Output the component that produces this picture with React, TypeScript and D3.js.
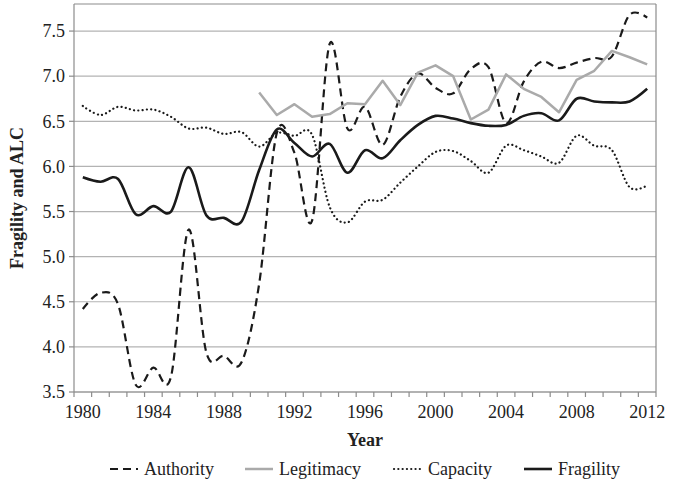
import * as d3 from "d3";

const years = [
  1980, 1981, 1982, 1983, 1984, 1985, 1986, 1987, 1988, 1989, 1990,
  1991, 1992, 1993, 1994, 1995, 1996, 1997, 1998, 1999, 2000,
  2001, 2002, 2003, 2004, 2005, 2006, 2007, 2008, 2009, 2010, 2011, 2012,
];

const authority = [
  4.42, 4.60, 4.47, 3.58, 3.77, 3.67, 5.30, 3.94, 3.90, 3.83, 4.70,
  6.37, 6.15, 5.40, 7.36, 6.42, 6.66, 6.24, 6.77, 7.03, 6.87,
  6.81, 7.08, 7.10, 6.48, 6.94, 7.16, 7.09, 7.15, 7.20, 7.22, 7.68, 7.65,
];

const legitimacy: (number | null)[] = [
  null, null, null, null, null, null, null, null, null, null, 6.82,
  6.57, 6.69, 6.55, 6.58, 6.70, 6.69, 6.95, 6.68, 7.04, 7.12,
  7.00, 6.52, 6.63, 7.02, 6.86, 6.77, 6.60, 6.96, 7.06, 7.28, 7.21, 7.13,
];

const capacity = [
  6.67, 6.57, 6.66, 6.62, 6.63, 6.55, 6.42, 6.43, 6.36, 6.38, 6.22,
  6.37, 6.34, 6.35, 5.55, 5.38, 5.61, 5.63, 5.82, 6.00, 6.16,
  6.17, 6.06, 5.93, 6.23, 6.18, 6.11, 6.04, 6.34, 6.23, 6.18, 5.77, 5.79,
];

const fragility = [
  5.88, 5.83, 5.86, 5.47, 5.56, 5.50, 5.99, 5.46, 5.43, 5.39, 5.96,
  6.41, 6.26, 6.11, 6.25, 5.93, 6.18, 6.09, 6.29, 6.46, 6.56,
  6.53, 6.48, 6.45, 6.46, 6.56, 6.59, 6.51, 6.75, 6.72, 6.71, 6.72, 6.86,
];

const yTicks = [3.5, 4.0, 4.5, 5.0, 5.5, 6.0, 6.5, 7.0, 7.5];
const xLabels = [1980, 1984, 1988, 1992, 1996, 2000, 2004, 2008, 2012];

const font = '"Liberation Serif", "DejaVu Serif", serif';

export default function App() {
  const w = 673;
  const h = 482;
  const left = 74, right = 656, top = 4, bottom = 392;

  const x = d3.scaleBand<number>().domain(years).range([left, right]).padding(0);
  const cx = (yr: number) => (x(yr) as number) + x.bandwidth() / 2;
  const y = d3.scaleLinear().domain([3.5, 7.8]).range([bottom, top]);

  // excel-style smoothed line
  const smooth = d3
    .line<number>()
    .x((_, i) => cx(years[i]))
    .y((d) => y(d))
    .curve(d3.curveCardinal.tension(0));

  const straight = d3
    .line<number | null>()
    .defined((d) => d != null)
    .x((_, i) => cx(years[i]))
    .y((d) => y(d as number));

  const series = [
    { name: "Authority", d: smooth(authority), stroke: "#1a1a1a", width: 2.2, dash: "8,5", cap: "butt", lx: 110 },
    { name: "Legitimacy", d: straight(legitimacy), stroke: "#aaaaaa", width: 2.5, dash: "", cap: "butt", lx: 245 },
    { name: "Capacity", d: smooth(capacity), stroke: "#1a1a1a", width: 2.2, dash: "0.1,4.2", cap: "round", lx: 394 },
    { name: "Fragility", d: smooth(fragility), stroke: "#1a1a1a", width: 2.6, dash: "", cap: "butt", lx: 524 },
  ];

  const ticksX = [...years.map((yr) => x(yr) as number), right];

  return (
    <svg
      width={w}
      height={h}
      viewBox={`0 0 ${w} ${h}`}
      style={{ position: "absolute", left: 0, top: 0, background: "#fff" }}
      fontFamily={font}
    >
      {/* grid */}
      {yTicks.map((t) => (
        <line key={t} x1={left} x2={right} y1={y(t)} y2={y(t)} stroke="#b3b3b3" strokeWidth={1.2} />
      ))}
      {/* frame */}
      <line x1={left} x2={right} y1={top} y2={top} stroke="#8c8c8c" strokeWidth={1.2} />
      <line x1={right} x2={right} y1={top} y2={bottom} stroke="#8c8c8c" strokeWidth={1.2} />
      <line x1={left} x2={left} y1={top} y2={bottom} stroke="#8c8c8c" strokeWidth={1.2} />
      <line x1={left} x2={right} y1={bottom} y2={bottom} stroke="#8c8c8c" strokeWidth={1.2} />

      {/* y axis ticks and labels */}
      {yTicks.map((t) => (
        <g key={t}>
          <line x1={left - 5} x2={left} y1={y(t)} y2={y(t)} stroke="#8c8c8c" strokeWidth={1.2} />
          <text x={65} y={y(t)} dy="0.35em" textAnchor="end" fontSize={18} fill="#222">
            {t.toFixed(1)}
          </text>
        </g>
      ))}

      {/* x axis ticks and labels */}
      {ticksX.map((tx, i) => (
        <line key={i} x1={tx} x2={tx} y1={bottom} y2={bottom + 5} stroke="#8c8c8c" strokeWidth={1.2} />
      ))}
      {xLabels.map((yr) => (
        <text key={yr} x={cx(yr)} y={418} textAnchor="middle" fontSize={18} fill="#222">
          {yr}
        </text>
      ))}

      {/* series */}
      {series.map((s) => (
        <path
          key={s.name}
          d={s.d || ""}
          fill="none"
          stroke={s.stroke}
          strokeWidth={s.width}
          strokeDasharray={s.dash || undefined}
          strokeLinecap={s.cap as any}
          strokeLinejoin="round"
        />
      ))}

      {/* axis titles */}
      <text x={(left + right) / 2} y={446} textAnchor="middle" fontSize={18} fontWeight="bold" fill="#222">
        Year
      </text>
      <text
        transform={`translate(23,${(top + bottom) / 2}) rotate(-90)`}
        textAnchor="middle"
        fontSize={18}
        fontWeight="bold"
        fill="#222"
      >
        Fragility and ALC
      </text>

      {/* legend */}
      {series.map((s) => (
        <g key={s.name}>
          <line
            x1={s.lx}
            x2={s.lx + 28}
            y1={469}
            y2={469}
            stroke={s.stroke}
            strokeWidth={s.width}
            strokeDasharray={s.dash || undefined}
            strokeLinecap={s.cap as any}
          />
          <text x={s.lx + 34} y={475} fontSize={18} fill="#222">
            {s.name}
          </text>
        </g>
      ))}
    </svg>
  );
}
